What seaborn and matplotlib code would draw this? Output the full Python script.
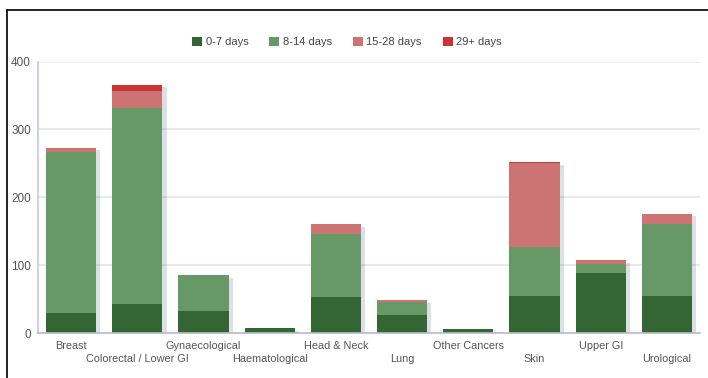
import matplotlib
matplotlib.use("Agg")
import matplotlib.pyplot as plt
import matplotlib.patheffects as pe
from matplotlib.patches import Patch
from matplotlib.lines import Line2D
import seaborn as sns
import numpy as np
import pandas as pd

categories = ["Breast", "Colorectal / Lower GI", "Gynaecological", "Haematological",
              "Head & Neck", "Lung", "Other Cancers", "Skin", "Upper GI", "Urological"]
days_0_7 = [29, 43, 32, 7, 53, 26, 6, 55, 88, 55]
days_8_14 = [237, 288, 53, 0, 93, 20, 0, 72, 14, 106]
days_15_28 = [7, 26, 0, 0, 14, 2, 0, 123, 5, 15]
days_29_plus = [0, 9, 0, 0, 0, 0, 0, 2, 0, 0]
series_names = ["0-7 days", "8-14 days", "15-28 days", "29+ days"]
colors = ["#336633", "#669966", "#cc7373", "#cc3333"]
yticks = [0, 100, 200, 300, 400]

sns.set_theme(style="white")
plt.rcParams['font.family'] = ['Liberation Sans', 'DejaVu Sans']

fig = plt.figure(figsize=(7.08, 3.78), dpi=100)
ax = fig.add_axes([38/708, 1-333/378, 662/708, (333-61.5)/378])

series = [days_0_7, days_8_14, days_15_28, days_29_plus]
totals = np.sum(np.array(series), axis=0)

# shadow layer behind full stacks
df_tot = pd.DataFrame({"cat": categories, "val": totals})
n_before = len(ax.patches)
sns.barplot(data=df_tot, x="cat", y="val", color="white", width=0.76,
            ax=ax, saturation=1, linewidth=0)
for p in ax.patches[n_before:]:
    p.set_zorder(2)
    p.set_path_effects([pe.SimplePatchShadow(offset=(3, -2), shadow_rgbFace="#7a80a0", alpha=0.25)])

bottom = np.zeros(len(categories))
for name, vals, col in zip(series_names, series, colors):
    df = pd.DataFrame({"cat": categories, "val": vals})
    n_before = len(ax.patches)
    sns.barplot(data=df, x="cat", y="val", color=col, bottom=bottom, width=0.76,
                ax=ax, saturation=1, linewidth=0)
    for p in ax.patches[n_before:]:
        p.set_zorder(3)
    bottom = bottom + np.array(vals)

ax.set_ylim(0, 400)
ax.set_yticks(yticks)
ax.set_xlim(-0.5, len(categories) - 0.5)
ax.grid(axis="y", color="#e4e4ee", linewidth=1.2, zorder=0)
ax.set_axisbelow(True)
for s in ["top", "right"]:
    ax.spines[s].set_visible(False)
ax.spines["left"].set_color("#c4c8dc")
ax.spines["bottom"].set_color("#b8bccc")
ax.spines["left"].set_linewidth(1.2)
ax.spines["bottom"].set_linewidth(1.2)
ax.spines["bottom"].set_zorder(4)
ax.set_xlabel("")
ax.set_ylabel("")
ax.set_xticks(range(len(categories)))
ax.set_xticklabels(categories)
ax.tick_params(axis="x", length=0, colors="#555555", labelsize=7.8)
ax.tick_params(axis="y", length=0, colors="#555555", labelsize=8.5, pad=5)
for i, tick in enumerate(ax.xaxis.get_major_ticks()):
    tick.set_pad(6 if i % 2 == 0 else 15)

handles = [Patch(facecolor=c, edgecolor="none", label=n) for n, c in zip(series_names, colors)]
fig.legend(handles=handles, loc="center", bbox_to_anchor=(347/708, 1-42/378), ncol=4,
           frameon=False, fontsize=8, handlelength=0.9, handleheight=0.9,
           handletextpad=0.3, columnspacing=1.9, labelcolor="#444444")

fig.add_artist(Line2D([7/708, 1], [1-10/378, 1-10/378], color="black", linewidth=1.2))
fig.add_artist(Line2D([7/708, 7/708], [0, 1-10/378], color="black", linewidth=1.2))

fig.savefig("out.png", dpi=100)
